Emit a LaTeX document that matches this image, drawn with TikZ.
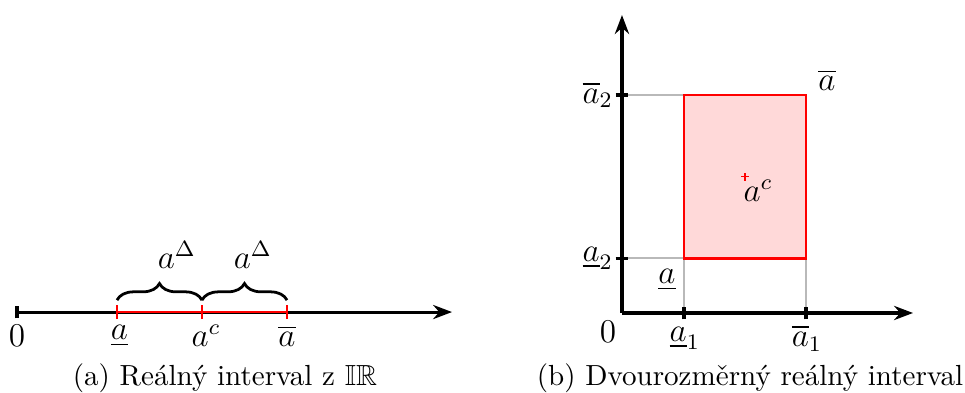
\documentclass[tikz,border=0pt]{standalone}
\usepackage{amsmath,amssymb}
\usetikzlibrary{arrows.meta,calc,decorations.pathreplacing}

\begin{document}
\begin{tikzpicture}[axis/.style={line width=1.1pt,-{Stealth[length=2.4mm,width=1.8mm]}},
  tick/.style={line width=1.1pt},
  ivl/.style={red,line width=1pt}, guide/.style={gray!55,line width=0.7pt},
  brc/.style={decorate,decoration={brace,amplitude=6pt,raise=4.3pt},line width=1pt},
  capt/.style={font=\fontsize{10.5pt}{12pt}\selectfont},
  every node/.style={font=\large}]
\useasboundingbox (0,0) rectangle (12.246,4.975);
% (a) interval on the real line
\coordinate (o) at (0.216,1.015);
\coordinate (lo) at (1.485,1.015);
\coordinate (mid) at (2.563,1.015);
\coordinate (hi) at (3.642,1.015);
\coordinate (end) at (5.736,1.015);
\draw[axis] (o) -- (end);
\draw[tick] ([yshift=-0.08cm]o) -- ([yshift=0.08cm]o);
\draw[ivl] (lo) -- (hi);
\foreach \p in {lo,mid,hi}
  \draw[ivl] ([yshift=-0.09cm]\p) -- ([yshift=0.09cm]\p);
\draw[brc] (lo) -- (mid);
\draw[brc] (mid) -- (hi);
\node (dl) at (2.245,1.739) {$a^\Delta$};
\node (dr) at (3.210,1.739) {$a^\Delta$};
\node (zero) at (0.216,0.71) {$0$};
\node (alo) at (1.516,0.71) {$\underline{a}$};
\node (amid) at (2.615,0.71) {$a^c$};
\node (ahi) at (3.642,0.71) {$\overline{a}$};
\node[capt] (capa) at (2.855,0.178) {(a) Reálný interval z $\mathbb{IR}$};
% (b) interval in the plane
\coordinate (O) at (7.893,1.003);
\coordinate (xend) at (11.586,1.003);
\coordinate (yend) at (7.893,4.784);
\coordinate (A) at (8.680,1.698);
\coordinate (B) at (10.228,3.769);
\draw[guide] (O |- B) -- (A |- B);
\draw[guide] (O |- A) -- (A);
\draw[guide] (A) -- (A |- O);
\draw[guide] (B |- A) -- (B |- O);
\draw[ivl,fill=red!15] (A) rectangle (B);
\draw[axis] (O) -- (xend);
\draw[axis] (O) -- (yend);
\foreach \p in {A,B} {
  \draw[tick] ([yshift=-0.08cm]\p |- O) -- ([yshift=0.08cm]\p |- O);
  \draw[tick] ([xshift=-0.08cm]O |- \p) -- ([xshift=0.08cm]O |- \p);
}
\coordinate (C) at ($(A)!0.5!(B)$);
\draw[red,thin] ([xshift=-0.05cm]C) -- ([xshift=0.05cm]C)
  ([yshift=-0.05cm]C) -- ([yshift=0.05cm]C);
\node (ac) at (9.62,2.56) {$a^c$};
\node (Zero) at (7.716,0.761) {$0$};
\node (a1lo) at (8.690,0.685) {$\underline{a}_1$};
\node (a1hi) at (10.24,0.685) {$\overline{a}_1$};
\node (a2lo) at (7.585,1.698) {$\underline{a}_2$};
\node (a2hi) at (7.585,3.769) {$\overline{a}_2$};
\node (Alo) at (8.464,1.421) {$\underline{a}$};
\node (Ahi) at (10.495,3.959) {$\overline{a}$};
\node[capt] (capb) at (9.518,0.178) {(b) Dvourozměrný reálný interval};
\end{tikzpicture}
\end{document}
